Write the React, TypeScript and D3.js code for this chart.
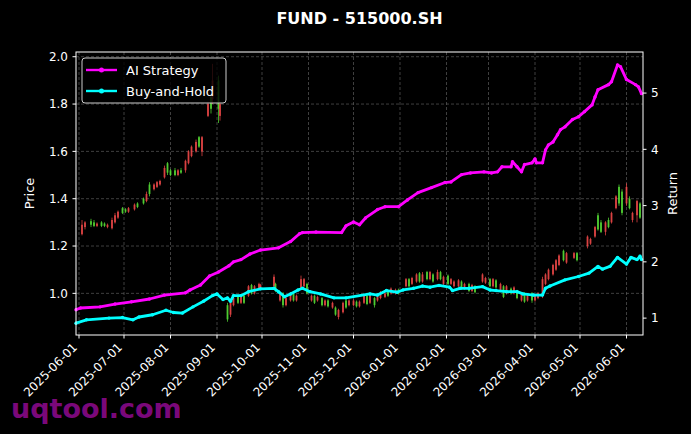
import React from 'react';
import * as d3 from 'd3';

const W = 691;
const H = 434;
const margin = { top: 52, right: 48, bottom: 99, left: 76 };

// date, open, high, low, close
const candles: [string, number, number, number, number][] = [
  ['2025-06-03', 1.25, 1.31, 1.245, 1.29],
  ['2025-06-05', 1.28, 1.305, 1.27, 1.3],
  ['2025-06-09', 1.305, 1.315, 1.28, 1.29],
  ['2025-06-11', 1.3, 1.31, 1.28, 1.285],
  ['2025-06-13', 1.285, 1.3, 1.28, 1.295],
  ['2025-06-16', 1.3, 1.305, 1.28, 1.285],
  ['2025-06-18', 1.295, 1.3, 1.28, 1.285],
  ['2025-06-20', 1.28, 1.295, 1.275, 1.29],
  ['2025-06-23', 1.275, 1.32, 1.27, 1.31],
  ['2025-06-25', 1.3, 1.34, 1.295, 1.33],
  ['2025-06-27', 1.32, 1.35, 1.315, 1.345],
  ['2025-06-30', 1.36, 1.365, 1.335, 1.34],
  ['2025-07-02', 1.355, 1.36, 1.34, 1.345],
  ['2025-07-04', 1.345, 1.365, 1.34, 1.36],
  ['2025-07-08', 1.355, 1.38, 1.35, 1.375],
  ['2025-07-10', 1.38, 1.385, 1.36, 1.365],
  ['2025-07-14', 1.4, 1.405, 1.375, 1.38],
  ['2025-07-16', 1.39, 1.43, 1.385, 1.42],
  ['2025-07-18', 1.46, 1.47, 1.41, 1.42],
  ['2025-07-21', 1.44, 1.465, 1.435, 1.46],
  ['2025-07-23', 1.45, 1.475, 1.445, 1.47],
  ['2025-07-25', 1.46, 1.48, 1.455, 1.475],
  ['2025-07-28', 1.49, 1.54, 1.485, 1.53],
  ['2025-07-30', 1.55, 1.555, 1.5, 1.51],
  ['2025-08-01', 1.52, 1.525, 1.495, 1.5],
  ['2025-08-04', 1.52, 1.53, 1.495, 1.5],
  ['2025-08-06', 1.5, 1.525, 1.495, 1.52],
  ['2025-08-08', 1.52, 1.53, 1.505, 1.51],
  ['2025-08-11', 1.52, 1.565, 1.51, 1.56],
  ['2025-08-13', 1.55, 1.605, 1.545, 1.6],
  ['2025-08-15', 1.58, 1.625, 1.575, 1.62],
  ['2025-08-18', 1.6, 1.65, 1.595, 1.64],
  ['2025-08-20', 1.66, 1.665, 1.615, 1.62],
  ['2025-08-22', 1.6, 1.665, 1.58, 1.66],
  ['2025-08-26', 1.75, 1.81, 1.745, 1.8],
  ['2025-08-28', 1.83, 1.84, 1.76, 1.78],
  ['2025-08-29', 1.82, 1.97, 1.8, 1.9],
  ['2025-09-02', 1.9, 1.92, 1.72, 1.78],
  ['2025-09-03', 1.75, 1.81, 1.73, 1.8],
  ['2025-09-08', 0.95, 0.96, 0.88, 0.89],
  ['2025-09-10', 0.91, 0.97, 0.9, 0.96],
  ['2025-09-12', 0.95, 0.985, 0.945, 0.98],
  ['2025-09-15', 0.99, 0.995, 0.955, 0.96],
  ['2025-09-17', 0.96, 0.995, 0.955, 0.99],
  ['2025-09-19', 0.99, 0.995, 0.955, 0.96],
  ['2025-09-22', 0.99, 1.035, 0.985, 1.03],
  ['2025-09-24', 1.035, 1.04, 0.995, 1.0],
  ['2025-09-26', 1.0, 1.035, 0.995, 1.03],
  ['2025-09-29', 1.02, 1.045, 1.015, 1.04],
  ['2025-09-30', 1.02, 1.04, 1.015, 1.035],
  ['2025-10-09', 1.03, 1.08, 1.02, 1.07],
  ['2025-10-10', 1.04, 1.045, 1.005, 1.01],
  ['2025-10-13', 0.97, 1.005, 0.965, 1.0],
  ['2025-10-15', 1.0, 1.005, 0.94, 0.95],
  ['2025-10-17', 0.95, 0.985, 0.945, 0.98],
  ['2025-10-20', 0.97, 1.005, 0.965, 1.0],
  ['2025-10-22', 1.0, 1.005, 0.965, 0.97],
  ['2025-10-24', 0.97, 0.995, 0.965, 0.99],
  ['2025-10-27', 1.02, 1.075, 1.015, 1.06],
  ['2025-10-29', 1.03, 1.065, 1.025, 1.06],
  ['2025-10-31', 1.04, 1.045, 0.995, 1.0],
  ['2025-11-03', 0.97, 0.995, 0.965, 0.99],
  ['2025-11-05', 0.99, 0.995, 0.955, 0.96],
  ['2025-11-07', 0.97, 0.99, 0.965, 0.985],
  ['2025-11-10', 0.98, 0.985, 0.945, 0.95],
  ['2025-11-12', 0.95, 0.975, 0.945, 0.97],
  ['2025-11-14', 0.97, 0.975, 0.94, 0.945],
  ['2025-11-17', 0.94, 0.965, 0.935, 0.96],
  ['2025-11-19', 0.94, 0.945, 0.905, 0.91],
  ['2025-11-21', 0.9, 0.935, 0.89, 0.93],
  ['2025-11-24', 0.92, 0.965, 0.915, 0.96],
  ['2025-11-26', 0.97, 0.975, 0.935, 0.94],
  ['2025-11-28', 0.95, 0.975, 0.945, 0.97],
  ['2025-12-01', 0.95, 0.975, 0.945, 0.97],
  ['2025-12-03', 0.965, 0.97, 0.94, 0.945],
  ['2025-12-05', 0.945, 0.97, 0.94, 0.965],
  ['2025-12-08', 0.96, 0.995, 0.955, 0.99],
  ['2025-12-10', 0.99, 0.995, 0.95, 0.955],
  ['2025-12-12', 0.96, 0.995, 0.955, 0.99],
  ['2025-12-15', 0.98, 0.985, 0.94, 0.95],
  ['2025-12-17', 0.97, 1.0, 0.965, 0.995],
  ['2025-12-19', 0.98, 1.01, 0.975, 1.005],
  ['2025-12-22', 0.985, 1.005, 0.98, 1.0],
  ['2025-12-24', 1.01, 1.015, 0.985, 0.99],
  ['2025-12-26', 1.0, 1.025, 0.995, 1.02],
  ['2025-12-29', 1.0, 1.02, 0.995, 1.015],
  ['2025-12-31', 1.015, 1.02, 0.995, 1.0],
  ['2026-01-05', 1.03, 1.065, 1.025, 1.06],
  ['2026-01-07', 1.06, 1.065, 1.025, 1.03],
  ['2026-01-09', 1.04, 1.07, 1.035, 1.065],
  ['2026-01-12', 1.05, 1.085, 1.045, 1.08],
  ['2026-01-14', 1.085, 1.09, 1.045, 1.05],
  ['2026-01-16', 1.05, 1.09, 1.045, 1.08],
  ['2026-01-19', 1.09, 1.095, 1.055, 1.06],
  ['2026-01-21', 1.06, 1.095, 1.055, 1.09],
  ['2026-01-23', 1.08, 1.085, 1.045, 1.05],
  ['2026-01-26', 1.06, 1.1, 1.055, 1.09],
  ['2026-01-28', 1.09, 1.095, 1.055, 1.06],
  ['2026-01-30', 1.04, 1.075, 1.035, 1.07],
  ['2026-02-02', 1.075, 1.08, 1.035, 1.04],
  ['2026-02-04', 1.04, 1.065, 1.035, 1.06],
  ['2026-02-06', 1.03, 1.055, 1.025, 1.05],
  ['2026-02-09', 1.03, 1.06, 1.025, 1.055],
  ['2026-02-11', 1.05, 1.055, 1.015, 1.02],
  ['2026-02-13', 1.02, 1.045, 1.015, 1.04],
  ['2026-02-16', 1.04, 1.045, 1.005, 1.01],
  ['2026-02-18', 1.01, 1.04, 1.005, 1.035],
  ['2026-02-20', 1.03, 1.035, 1.0, 1.005],
  ['2026-02-25', 1.05, 1.085, 1.045, 1.08],
  ['2026-02-27', 1.045, 1.07, 1.04, 1.065],
  ['2026-03-02', 1.06, 1.065, 1.025, 1.03],
  ['2026-03-04', 1.03, 1.065, 1.025, 1.06],
  ['2026-03-06', 1.055, 1.06, 1.02, 1.025],
  ['2026-03-09', 1.01, 1.045, 1.005, 1.04],
  ['2026-03-11', 1.03, 1.035, 0.98, 0.985],
  ['2026-03-13', 1.0, 1.035, 0.995, 1.03],
  ['2026-03-16', 1.02, 1.025, 0.995, 1.0],
  ['2026-03-18', 1.0, 1.03, 0.995, 1.025],
  ['2026-03-20', 1.01, 1.015, 0.975, 0.98],
  ['2026-03-23', 0.97, 1.005, 0.965, 1.0],
  ['2026-03-25', 1.0, 1.005, 0.96, 0.965],
  ['2026-03-27', 0.97, 1.0, 0.965, 0.995],
  ['2026-03-30', 1.0, 1.005, 0.96, 0.97],
  ['2026-04-01', 0.97, 0.995, 0.965, 0.99],
  ['2026-04-03', 0.98, 1.005, 0.975, 1.0],
  ['2026-04-06', 1.0, 1.07, 0.98, 1.06],
  ['2026-04-08', 1.04, 1.085, 1.035, 1.08],
  ['2026-04-10', 1.06, 1.105, 1.055, 1.1],
  ['2026-04-13', 1.08, 1.125, 1.075, 1.12],
  ['2026-04-15', 1.1, 1.145, 1.095, 1.14],
  ['2026-04-17', 1.12, 1.165, 1.115, 1.16],
  ['2026-04-20', 1.18, 1.185, 1.135, 1.14],
  ['2026-04-22', 1.13, 1.175, 1.125, 1.17],
  ['2026-04-27', 1.15, 1.175, 1.145, 1.17],
  ['2026-04-29', 1.17, 1.175, 1.135, 1.14],
  ['2026-05-06', 1.2, 1.245, 1.19, 1.24],
  ['2026-05-08', 1.21, 1.235, 1.205, 1.23],
  ['2026-05-11', 1.24, 1.285, 1.235, 1.28],
  ['2026-05-13', 1.33, 1.34, 1.265, 1.27],
  ['2026-05-15', 1.3, 1.31, 1.255, 1.26],
  ['2026-05-18', 1.26, 1.305, 1.245, 1.3],
  ['2026-05-20', 1.31, 1.32, 1.275, 1.28],
  ['2026-05-22', 1.3, 1.345, 1.295, 1.34],
  ['2026-05-25', 1.36, 1.415, 1.355, 1.41],
  ['2026-05-27', 1.45, 1.46, 1.37, 1.38],
  ['2026-05-29', 1.43, 1.44, 1.33, 1.34],
  ['2026-06-01', 1.38, 1.465, 1.37, 1.45],
  ['2026-06-03', 1.4, 1.41, 1.355, 1.36],
  ['2026-06-05', 1.31, 1.345, 1.3, 1.34],
  ['2026-06-08', 1.33, 1.395, 1.3, 1.39],
  ['2026-06-10', 1.38, 1.385, 1.315, 1.32],
];

const aiStrategy: [string, number][] = [
  ['2025-05-30', 1.15], ['2025-06-02', 1.18], ['2025-06-15', 1.2], ['2025-06-25', 1.25],
  ['2025-07-06', 1.29], ['2025-07-18', 1.34], ['2025-07-28', 1.41], ['2025-08-11', 1.45],
  ['2025-08-14', 1.5], ['2025-08-21', 1.59], ['2025-08-27', 1.75], ['2025-09-02', 1.82],
  ['2025-09-09', 1.93], ['2025-09-12', 2.0], ['2025-09-17', 2.04], ['2025-09-23', 2.14],
  ['2025-09-30', 2.21], ['2025-10-12', 2.25], ['2025-10-20', 2.36], ['2025-10-26', 2.5],
  ['2025-10-28', 2.52], ['2025-11-06', 2.53], ['2025-11-23', 2.52], ['2025-11-26', 2.64],
  ['2025-12-01', 2.71], ['2025-12-05', 2.66], ['2025-12-09', 2.78], ['2025-12-17', 2.93],
  ['2025-12-22', 2.98], ['2025-12-31', 2.98], ['2026-01-06', 3.1], ['2026-01-13', 3.23],
  ['2026-01-22', 3.32], ['2026-01-31', 3.41], ['2026-02-04', 3.42], ['2026-02-11', 3.55],
  ['2026-02-17', 3.58], ['2026-02-26', 3.6], ['2026-03-03', 3.58], ['2026-03-07', 3.6],
  ['2026-03-10', 3.69], ['2026-03-16', 3.69], ['2026-03-17', 3.78], ['2026-03-20', 3.69],
  ['2026-03-23', 3.6], ['2026-03-25', 3.73], ['2026-03-30', 3.76], ['2026-04-01', 3.83],
  ['2026-04-02', 3.76], ['2026-04-06', 3.76], ['2026-04-08', 3.99], ['2026-04-10', 4.08],
  ['2026-04-13', 4.13], ['2026-04-16', 4.26], ['2026-04-18', 4.35], ['2026-04-21', 4.4],
  ['2026-04-26', 4.53], ['2026-04-30', 4.58], ['2026-05-04', 4.67], ['2026-05-09', 4.79],
  ['2026-05-11', 4.93], ['2026-05-13', 5.06], ['2026-05-20', 5.15], ['2026-05-22', 5.2],
  ['2026-05-26', 5.5], ['2026-05-28', 5.47], ['2026-06-01', 5.24], ['2026-06-07', 5.15],
  ['2026-06-09', 5.11], ['2026-06-11', 4.99],
];

const buyAndHold: [string, number][] = [
  ['2025-05-30', 0.91], ['2025-06-06', 0.97], ['2025-06-21', 1.0], ['2025-06-30', 1.01],
  ['2025-07-07', 0.97], ['2025-07-11', 1.02], ['2025-07-20', 1.06], ['2025-07-29', 1.14],
  ['2025-08-03', 1.1], ['2025-08-09', 1.09], ['2025-08-16', 1.2], ['2025-08-23', 1.3],
  ['2025-08-29', 1.4], ['2025-09-01', 1.43], ['2025-09-05', 1.33], ['2025-09-08', 1.36],
  ['2025-09-10', 1.3], ['2025-09-12', 1.4], ['2025-09-17', 1.4], ['2025-09-22', 1.47],
  ['2025-09-30', 1.52], ['2025-10-09', 1.53], ['2025-10-12', 1.47], ['2025-10-16', 1.38],
  ['2025-10-20', 1.43], ['2025-10-25', 1.5], ['2025-10-28', 1.53], ['2025-11-02', 1.47],
  ['2025-11-09', 1.43], ['2025-11-18', 1.36], ['2025-11-26', 1.36], ['2025-12-12', 1.43],
  ['2025-12-17', 1.41], ['2025-12-23', 1.49], ['2025-12-30', 1.46], ['2026-01-03', 1.5],
  ['2026-01-10', 1.53], ['2026-01-16', 1.57], ['2026-01-21', 1.55], ['2026-01-27', 1.58],
  ['2026-02-03', 1.55], ['2026-02-05', 1.49], ['2026-02-10', 1.53], ['2026-02-16', 1.53],
  ['2026-02-25', 1.56], ['2026-03-02', 1.5], ['2026-03-06', 1.49], ['2026-03-13', 1.47],
  ['2026-03-20', 1.47], ['2026-03-24', 1.43], ['2026-03-31', 1.41], ['2026-04-06', 1.41],
  ['2026-04-08', 1.53], ['2026-04-11', 1.57], ['2026-04-21', 1.68], ['2026-04-30', 1.74],
  ['2026-05-07', 1.8], ['2026-05-13', 1.92], ['2026-05-16', 1.87], ['2026-05-21', 1.92],
  ['2026-05-26', 2.08], ['2026-06-01', 1.96], ['2026-06-04', 2.08], ['2026-06-08', 2.04],
  ['2026-06-10', 2.1], ['2026-06-11', 2.04],
];

const priceTicks = [1.0, 1.2, 1.4, 1.6, 1.8, 2.0];
const returnTicks = [1, 2, 3, 4, 5];
const monthTicks = [
  '2025-06-01', '2025-07-01', '2025-08-01', '2025-09-01', '2025-10-01', '2025-11-01',
  '2025-12-01', '2026-01-01', '2026-02-01', '2026-03-01', '2026-04-01', '2026-05-01', '2026-06-01',
];

const parse = d3.utcParse('%Y-%m-%d');
const FONT = 'DejaVu Sans, sans-serif';
const UP = '#ff4d4d';
const DOWN = '#5cf03a';

export default function App() {
  const x0 = margin.left;
  const x1 = W - margin.right;
  const y0 = margin.top;
  const y1 = H - margin.bottom;

  const x = d3
    .scaleUtc()
    .domain([parse('2025-05-30')!, parse('2026-06-12')!])
    .range([x0, x1]);
  const yPrice = d3.scaleLinear().domain([0.824, 2.02]).range([y1, y0]);
  const yRet = d3.scaleLinear().domain([0.7, 5.73]).range([y1, y0]);

  const line = d3
    .line<[string, number]>()
    .x(d => x(parse(d[0])!))
    .y(d => yRet(d[1]));

  const series = [
    { name: 'AI Strategy', color: '#ff00ff', data: aiStrategy },
    { name: 'Buy-and-Hold', color: '#00ffff', data: buyAndHold },
  ];

  return (
    <>
      <style>{'body{margin:0;background:#000}'}</style>
      <svg width={W} height={H} style={{ display: 'block', background: '#000' }} fontFamily={FONT}>
        <rect width={W} height={H} fill="#000" />
        <text x={(x0 + x1) / 2} y={24} fill="#fff" fontSize={16} fontWeight="bold" textAnchor="middle">
          FUND - 515000.SH
        </text>

        {/* grid */}
        <g stroke="#5a5a5a" strokeWidth={0.7} strokeDasharray="3,2">
          {monthTicks.map(t => (
            <line key={t} x1={x(parse(t)!)} x2={x(parse(t)!)} y1={y0} y2={y1} />
          ))}
          {priceTicks.map(t => (
            <line key={t} x1={x0} x2={x1} y1={yPrice(t)} y2={yPrice(t)} />
          ))}
        </g>

        {/* candles */}
        <g>
          {candles.map(([d, o, h, l, c]) => {
            const cx = x(parse(d)!);
            const col = c >= o ? UP : DOWN;
            return (
              <g key={d} opacity={0.85}>
                <line x1={cx} x2={cx} y1={yPrice(h)} y2={yPrice(l)} stroke={col} strokeWidth={0.8} />
                <rect
                  x={cx - 0.9}
                  width={1.8}
                  y={yPrice(Math.max(o, c))}
                  height={Math.max(0.8, Math.abs(yPrice(o) - yPrice(c)))}
                  fill={col}
                />
              </g>
            );
          })}
        </g>

        {/* strategy lines */}
        {series.map(s => (
          <g key={s.name}>
            <path d={line(s.data)!} fill="none" stroke={s.color} strokeWidth={2.8} strokeLinejoin="round" />
            {s.data.map(d => (
              <circle key={d[0]} cx={x(parse(d[0])!)} cy={yRet(d[1])} r={1.7} fill={s.color} />
            ))}
          </g>
        ))}

        {/* frame */}
        <rect x={x0} y={y0} width={x1 - x0} height={y1 - y0} fill="none" stroke="#fff" strokeWidth={1} />

        {/* left axis */}
        {priceTicks.map(t => (
          <g key={t} transform={`translate(${x0},${yPrice(t)})`}>
            <line x1={-3.5} x2={0} stroke="#fff" />
            <text x={-8} dy="0.35em" fill="#fff" fontSize={12} textAnchor="end">
              {t.toFixed(1)}
            </text>
          </g>
        ))}
        <text transform={`translate(34,${(y0 + y1) / 2}) rotate(-90)`} fill="#fff" fontSize={13} textAnchor="middle">
          Price
        </text>

        {/* right axis */}
        {returnTicks.map(t => (
          <g key={t} transform={`translate(${x1},${yRet(t)})`}>
            <line x1={0} x2={3.5} stroke="#fff" />
            <text x={8} dy="0.35em" fill="#fff" fontSize={12} textAnchor="start">
              {t}
            </text>
          </g>
        ))}
        <text transform={`translate(677,${(y0 + y1) / 2}) rotate(-90)`} fill="#fff" fontSize={13} textAnchor="middle">
          Return
        </text>

        {/* bottom axis */}
        {monthTicks.map(t => {
          const tx = x(parse(t)!);
          return (
            <g key={t}>
              <line x1={tx} x2={tx} y1={y1} y2={y1 + 3.5} stroke="#fff" />
              <text
                transform={`translate(${tx - 1},${y1 + 13}) rotate(-45)`}
                fill="#fff"
                fontSize={12}
                textAnchor="end"
              >
                {t}
              </text>
            </g>
          );
        })}

        {/* legend */}
        <g transform="translate(82,58)">
          <rect width={144} height={45} rx={3} fill="#000" fillOpacity={0.8} stroke="#cccccc" strokeWidth={1} />
          {series.map((s, i) => (
            <g key={s.name} transform={`translate(0,${12 + i * 21})`}>
              <line x1={4} x2={35} stroke={s.color} strokeWidth={2.4} />
              <circle cx={19.5} cy={0} r={2.5} fill={s.color} />
              <text x={44} dy="0.35em" fill="#fff" fontSize={13}>
                {s.name}
              </text>
            </g>
          ))}
        </g>

        {/* watermark */}
        <text x={11} y={418} fill="#8c0a8c" fillOpacity={0.9} fontSize={27} fontWeight="bold">
          uqtool.com
        </text>
      </svg>
    </>
  );
}
